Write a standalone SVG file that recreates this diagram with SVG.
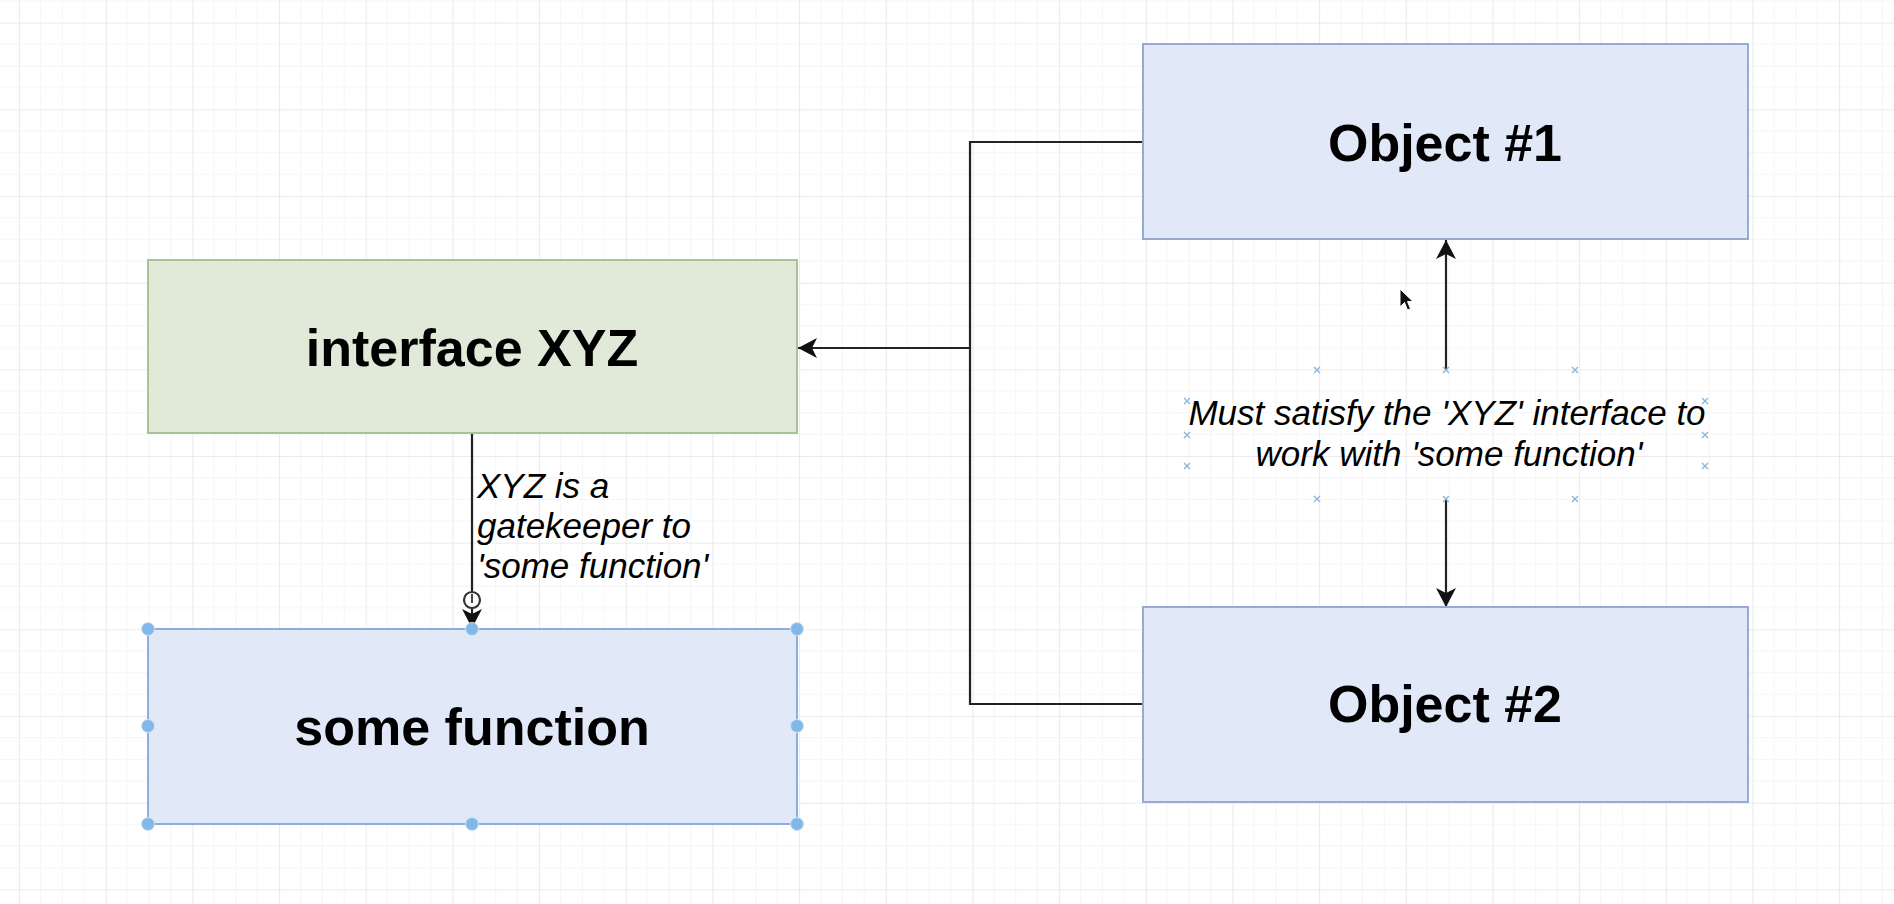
<svg xmlns="http://www.w3.org/2000/svg" width="1894" height="904" viewBox="0 0 1894 904">
<style>
.minor{stroke:#f5f5f5;stroke-width:1;fill:none}
.major{stroke:#ebebeb;stroke-width:1.2;fill:none}
.box-green{fill:#e1e9d8;stroke:#a9c494;stroke-width:2}
.box-blue{fill:#e1e9f8;stroke:#99aad0;stroke-width:2}
.title{font-family:"Liberation Sans",Arial,Helvetica,sans-serif;font-weight:bold;font-size:52px;fill:#000;text-anchor:middle}
.note{font-family:"Liberation Sans",Arial,Helvetica,sans-serif;font-style:italic;font-size:35px;fill:#000}
.edge{fill:none;stroke:#222;stroke-width:2.2}
.sel{fill:none;stroke:#7fb2e5;stroke-width:2;stroke-dasharray:3 2}
.handle{fill:#82b8e8;stroke:#cfe3f5;stroke-width:1}
.xmark{stroke:#86b6e4;stroke-width:1.4}
</style>
<defs>
<pattern id="grid" x="19" y="22.67" width="86.67" height="86.67" patternUnits="userSpaceOnUse">
<path class="minor" d="M21.67,0V86.67M43.33,0V86.67M65,0V86.67M0,21.67H86.67M0,43.33H86.67M0,65H86.67"/>
<path class="major" d="M0.5,0V86.67M0,0.5H86.67"/>
</pattern>
<marker id="arrow" markerUnits="userSpaceOnUse" markerWidth="20" markerHeight="20" refX="19" refY="10" orient="auto" viewBox="0 0 20 20">
<path d="M0,0 L19,10 L0,20 L5,10 Z" fill="#111"/>
</marker>
<g id="xm"><path class="xmark" d="M-3,-3L3,3M-3,3L3,-3"/></g>
</defs>
<rect width="1894" height="904" fill="#fff"/>
<rect width="1894" height="904" fill="url(#grid)"/>

<g id="connectors">
<path class="edge" d="M1142,142 H970 V348 H798" marker-end="url(#arrow)"/>
<path class="edge" d="M1142,704 H970 V348"/>
<path class="edge" d="M472,433 V628" marker-end="url(#arrow)"/>
<path class="edge" d="M1446,370 V240" marker-end="url(#arrow)"/>
<path class="edge" d="M1446,500 V607" marker-end="url(#arrow)"/>
</g>

<g id="node-interface">
<rect class="box-green" x="148" y="260" width="649" height="173"/>
<text class="title" x="472" y="366">interface XYZ</text>
</g>

<g id="node-some-function">
<rect class="box-blue" x="148" y="629" width="649" height="195"/>
<rect class="sel" x="148" y="629" width="649" height="195"/>
<text class="title" x="472" y="745">some function</text>
<circle class="handle" cx="148" cy="629" r="6.5"/>
<circle class="handle" cx="472" cy="629" r="6.5"/>
<circle class="handle" cx="797" cy="629" r="6.5"/>
<circle class="handle" cx="148" cy="726" r="6.5"/>
<circle class="handle" cx="797" cy="726" r="6.5"/>
<circle class="handle" cx="148" cy="824" r="6.5"/>
<circle class="handle" cx="472" cy="824" r="6.5"/>
<circle class="handle" cx="797" cy="824" r="6.5"/>
</g>

<g id="node-object1">
<rect class="box-blue" x="1143" y="44" width="605" height="195"/>
<text class="title" x="1445" y="161">Object #1</text>
</g>

<g id="node-object2">
<rect class="box-blue" x="1143" y="607" width="605" height="195"/>
<text class="title" x="1445" y="722">Object #2</text>
</g>

<g id="label-gatekeeper">
<text class="note" x="477" y="498">XYZ is a</text>
<text class="note" x="477" y="538">gatekeeper to</text>
<text class="note" x="477" y="578">'some function'</text>
</g>

<g id="label-satisfy">
<text class="note" x="1447" y="425" text-anchor="middle">Must satisfy the 'XYZ' interface to</text>
<text class="note" x="1449" y="466" text-anchor="middle">work with 'some function'</text>
<use href="#xm" x="1317" y="370"/>
<use href="#xm" x="1446" y="370"/>
<use href="#xm" x="1575" y="370"/>
<use href="#xm" x="1187" y="401"/>
<use href="#xm" x="1705" y="401"/>
<use href="#xm" x="1187" y="435"/>
<use href="#xm" x="1705" y="435"/>
<use href="#xm" x="1187" y="466"/>
<use href="#xm" x="1705" y="466"/>
<use href="#xm" x="1317" y="499"/>
<use href="#xm" x="1446" y="499"/>
<use href="#xm" x="1575" y="499"/>
</g>

<g id="ui-overlays">
<circle cx="472" cy="600" r="8" fill="#fff" stroke="#333" stroke-width="2.2"/>
<path d="M472,594 V603" stroke="#333" stroke-width="1.8"/>
<path d="M1400,289 L1400,307 L1404.5,302.5 L1407.5,310 L1410.5,308.8 L1407.5,301.5 L1413,301.5 Z" fill="#111" stroke="#fff" stroke-width="1"/>
</g>
</svg>
